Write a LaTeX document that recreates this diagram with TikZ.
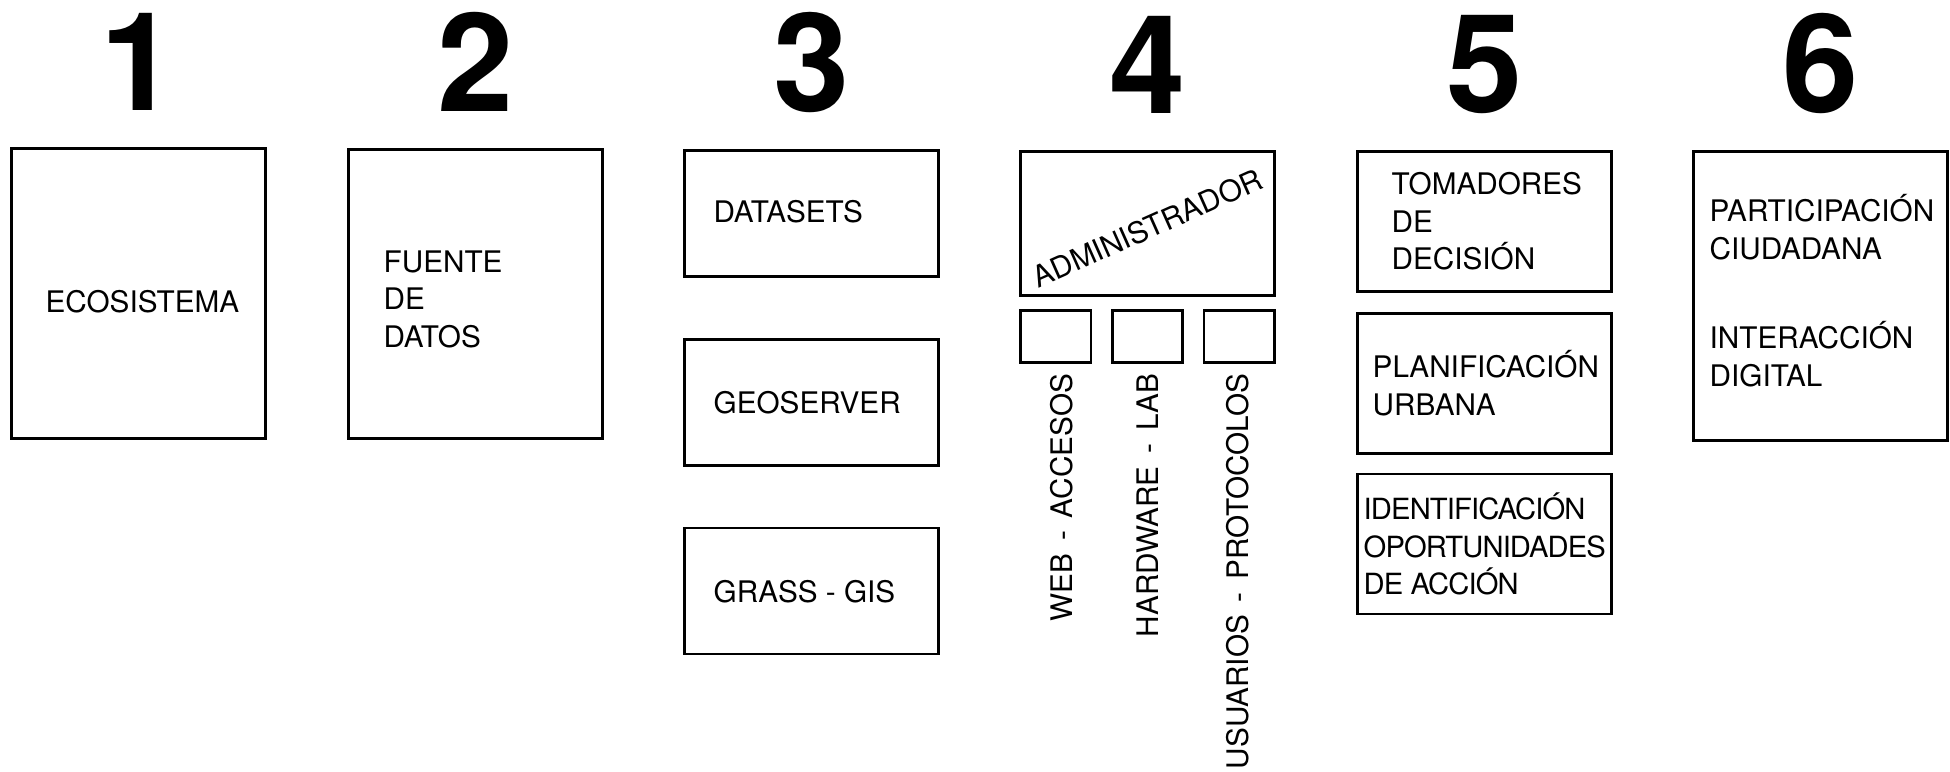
\documentclass[tikz,border=0pt]{standalone}
\usepackage{fontspec}
\setmainfont{TeX Gyre Heros}
\usetikzlibrary{positioning}
\newcommand{\guion}{\hspace{1.3mm}-\hspace{1.3mm}}

\begin{document}
\begin{tikzpicture}[x=1mm, y=1mm, node distance=6mm,
    caja/.style={draw=black, line width=0.8pt, inner sep=0pt, minimum width=25.4mm,
      minimum height=#1, anchor=north west},
    txt/.style={inner sep=0pt, align=left, anchor=west, font=\fontsize{8.45}{10.7}\selectfont},
    rot/.style={txt, rotate=90, anchor=east},
    num/.style={inner sep=0pt, font=\fontsize{39}{40}\selectfont\bfseries}]

    \useasboundingbox (0,0) rectangle (195,-77.2);

    % Set boxes
    \node[caja=29mm] (eco) at (1.0,-14.7) {};
    \node[caja=28.9mm] (fuente) at (34.7,-14.8) {};
    \node[caja=12.6mm] (datasets) at (68.3,-14.9) {};
    \node[caja=12.6mm, below=of datasets] (geoserver) {};
    \node[caja=12.6mm, below=of geoserver] (grass) {};
    \node[caja=14.4mm] (admin) at (101.9,-15.0) {};
    \node[caja=5.2mm, minimum width=7.05mm, below=1.2mm of admin.south west, anchor=north west] (web) {};
    \node[caja=5.2mm, minimum width=7.05mm, right=1.85mm of web] (hw) {};
    \node[caja=5.2mm, minimum width=7.05mm, right=1.85mm of hw] (usr) {};
    \node[caja=14mm] (tomadores) at (135.6,-15.0) {};
    \node[caja=14mm, below=1.9mm of tomadores] (planif) {};
    \node[caja=14mm, below=1.8mm of planif] (ident) {};
    \node[caja=28.9mm] (particip) at (169.2,-15.0) {};

    % Add numbers
    \foreach \b/\n in {eco/1, fuente/2, datasets/3, admin/4, tomadores/5, particip/6}
      \node[num, above=3.6mm of \b] (n\n) {\n};

    % Add labels
    \node[txt, anchor=center] (ecot) at ([xshift=0.4mm, yshift=-0.8mm]eco.center) {ECOSISTEMA};
    \node[txt, right=3.6mm of fuente.west, yshift=-0.55mm] (fuentet) {FUENTE\\DE\\DATOS};
    \node[txt, right=3.0mm of datasets.west, yshift=0.2mm] (datasetst) {DATASETS};
    \node[txt, right=3.0mm of geoserver.west] (geoservert) {GEOSERVER};
    \node[txt, right=3.0mm of grass.west, yshift=-0.1mm] (grasst) {GRASS - GIS};
    \node[txt, rotate=24, anchor=center] (admint) at ([yshift=-0.5mm]admin.center) {ADMINISTRADOR};
    \node[rot] (webt) at ([xshift=0.65mm, yshift=-0.95mm]web.south) {WEB\guion ACCESOS};
    \node[rot] (hwt) at ([yshift=-0.95mm]hw.south) {HARDWARE\guion LAB};
    \node[rot] (usrt) at ([xshift=-0.15mm, yshift=-0.95mm]usr.south) {USUARIOS\guion PROTOCOLOS};
    \node[txt, right=3.5mm of tomadores.west] (tomadorest) {TOMADORES\\DE\\DECISIÓN};
    \node[txt, right=1.6mm of planif.west] (planift) {PLANIFICACIÓN\\URBANA};
    \node[txt, right=0.7mm of ident.west,
      font=\fontsize{8.3}{10.7}\selectfont\addfontfeature{LetterSpace=-3}] (identt)
      {IDENTIFICACIÓN\\OPORTUNIDADES\\DE ACCIÓN};
    \node[txt, right=1.7mm of particip.west, yshift=6.85mm] (participt) {PARTICIPACIÓN\\CIUDADANA};
    \node[txt, right=1.7mm of particip.west, yshift=-5.8mm] (interact) {INTERACCIÓN\\DIGITAL};
\end{tikzpicture}
\end{document}
